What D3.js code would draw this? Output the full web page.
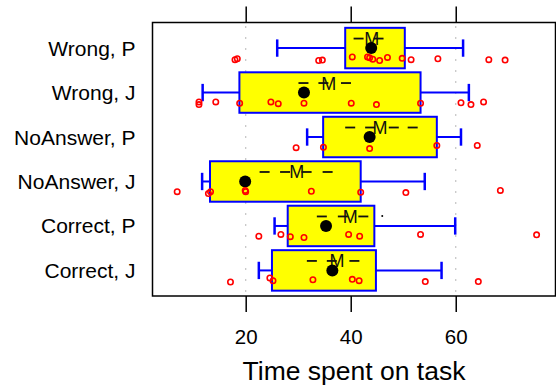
<!DOCTYPE html>
<html>
<head>
<meta charset="utf-8">
<script src="https://d3js.org/d3.v7.min.js"></script>
<style>
    body { margin: 0; background: #fff; }
    svg { display: block; font-family: "Liberation Sans", Arial, sans-serif; }
    .frame { fill: none; stroke: #000; stroke-width: 1.5px; }
    .ref { stroke: #888; stroke-width: 1.2px; stroke-dasharray: 1,10; }
    .box { fill: #ffff00; stroke: #0000ff; stroke-width: 2px; }
    .whisker { stroke: #0000ff; stroke-width: 2px; }
    .cap { stroke: #0000ff; stroke-width: 2.5px; }
    .pt { fill: none; stroke: #ff0000; stroke-width: 1.6px; }
    .dash { stroke: #111; stroke-width: 1.8px; }
    .axis path { display: none; }
    .axis line { stroke: #000; stroke-width: 1.5px; }
</style>
</head>
<body>
<svg width="556" height="388"></svg>
<script>
    // groups, top to bottom
    const categories = ["Wrong, P", "Wrong, J", "NoAnswer, P", "NoAnswer, J", "Correct, P", "Correct, J"];

    // box (quartiles) and whisker ends
    const q1      = [38.95, 18.8, 34.75, 13.2, 28.0, 25.0];
    const q3      = [50.3, 53.3, 56.4, 41.9, 44.5, 44.8];
    const whiskLo = [26.0, 11.8, 31.7, 11.7, 25.5, 22.5];
    const whiskHi = [61.4, 62.5, 61.0, 54.1, 59.9, 57.3];

    // mean (black dot), "M" marker and small dashes around it
    const means = [43.9, 31.1, 43.6, 19.9, 35.3, 36.5];
    const mPos  = [44.0, 35.8, 45.6, 29.7, 39.9, 37.4];
    const dashes = [
        [41.5, 45.3],
        [31.0, 34.8, 39.1],
        [39.9, 43.7, 48.2, 51.8],
        [23.6, 27.5, 31.6, 35.6],
        [34.5, 38.5, 42.4],
        [32.6, 36.4, 40.7]
    ];
    const strayDots = [[4, 46.0]];

    // raw observations: values and their vertical jitter (fraction of row step)
    const obs = [
        [17.96, 18.4, 33.9, 34.6, 40.3, 43.2, 43.6, 44.2, 45.5, 47.0, 49.8, 51.5, 56.6, 66.3, 69.4],
        [11.1, 11.1, 14.3, 18.85, 24.8, 26.2, 31.1, 40.1, 44.9, 53.3, 61.0, 62.9, 65.3],
        [29.6, 34.8, 43.6, 56.4, 64.1],
        [6.95, 12.9, 13.3, 19.9, 20.0, 32.5, 41.9, 50.5, 68.5],
        [22.5, 26.7, 28.5, 31.1, 39.6, 41.7, 53.3, 75.4],
        [17.1, 24.6, 25.2, 32.8, 40.3, 41.6, 54.2, 64.3]
    ];
    const jitter = [
        [.26, .24, .28, .27, .20, .20, .22, .25, .28, .21, .23, .26, .24, .26, .27],
        [.21, .27, .21, .24, .21, .25, .24, .24, .27, .24, .23, .27, .21],
        [.24, .23, .26, .19, .19],
        [.23, .27, .23, .20, .23, .22, .24, .25, .20],
        [.23, .19, .24, .26, .19, .23, .19, .20],
        [.26, .17, .23, .21, .20, .23, .25, .25]
    ];

    const xTicks = [20, 40, 60];
    const refLines = [20, 60];

    const margin = {top: 22.5, right: 0.5, bottom: 92, left: 152.5},
          W = 556, H = 388,
          width = W - margin.left - margin.right,
          height = H - margin.top - margin.bottom;

    const svg = d3.select("svg");
    const g = svg.append("g").attr("transform", `translate(${margin.left},${margin.top})`);

    const x = d3.scaleLinear().domain([2.25, 79]).range([0, width]);
    const y = d3.scalePoint().domain(categories).range([0, height]).padding(0.575);
    const step = y.step();
    const boxH = step * 0.91;
    const capH = step * 0.39;

    // dotted reference lines
    g.selectAll(".ref").data(refLines).enter().append("line")
        .attr("class", "ref")
        .attr("x1", d => x(d)).attr("x2", d => x(d))
        .attr("y1", 4).attr("y2", height);

    const rows = g.selectAll(".row")
        .data(categories)
        .enter().append("g")
        .attr("class", "row")
        .attr("transform", d => `translate(0,${y(d)})`);

    rows.append("line").attr("class", "whisker")
        .attr("x1", (d, i) => x(whiskLo[i])).attr("x2", (d, i) => x(q1[i]));
    rows.append("line").attr("class", "whisker")
        .attr("x1", (d, i) => x(q3[i])).attr("x2", (d, i) => x(whiskHi[i]));
    rows.append("line").attr("class", "cap")
        .attr("x1", (d, i) => x(whiskLo[i])).attr("x2", (d, i) => x(whiskLo[i]))
        .attr("y1", -capH / 2).attr("y2", capH / 2);
    rows.append("line").attr("class", "cap")
        .attr("x1", (d, i) => x(whiskHi[i])).attr("x2", (d, i) => x(whiskHi[i]))
        .attr("y1", -capH / 2).attr("y2", capH / 2);

    rows.append("rect").attr("class", "box")
        .attr("x", (d, i) => x(q1[i]))
        .attr("width", (d, i) => x(q3[i]) - x(q1[i]))
        .attr("y", -boxH / 2)
        .attr("height", boxH);

    // M marker and dashes
    rows.each(function(d, i) {
        const r = d3.select(this);
        r.selectAll(".dash").data(dashes[i]).enter().append("line")
            .attr("class", "dash")
            .attr("x1", v => x(v) - 5).attr("x2", v => x(v) + 5)
            .attr("y1", -9.5).attr("y2", -9.5);
        r.append("text")
            .attr("x", x(mPos[i]))
            .attr("y", -9.5 + 6.5)
            .attr("text-anchor", "middle")
            .style("font-size", "18px")
            .attr("fill", "#111")
            .text("M");
    });

    rows.append("circle")
        .attr("cx", (d, i) => x(means[i]))
        .attr("cy", 0)
        .attr("r", 6)
        .attr("fill", "#000");

    rows.each(function(d, i) {
        d3.select(this).selectAll(".pt").data(obs[i]).enter().append("circle")
            .attr("class", "pt")
            .attr("cx", v => x(v))
            .attr("cy", (v, k) => jitter[i][k] * step)
            .attr("r", 2.7);
    });

    strayDots.forEach(([i, v]) => {
        g.append("circle")
            .attr("cx", x(v))
            .attr("cy", y(categories[i]) - 10)
            .attr("r", 1)
            .attr("fill", "#000");
    });

    // frame
    g.append("rect").attr("class", "frame")
        .attr("width", width).attr("height", height);

    // axes
    g.append("g").attr("class", "axis")
        .attr("transform", `translate(0,${height})`)
        .call(d3.axisBottom(x).tickValues(xTicks).tickSize(16).tickPadding(17))
        .selectAll("text")
        .attr("fill", "#000")
        .style("font-size", "20.5px")
        .style("font-family", "'Liberation Sans', Arial, sans-serif");

    g.append("g").attr("class", "axis")
        .call(d3.axisTop(x).tickValues(xTicks).tickSize(16).tickFormat(""));

    // category labels
    g.selectAll(".ylab").data(categories).enter().append("text")
        .attr("class", "ylab")
        .attr("x", -17)
        .attr("y", d => y(d) + 7.5)
        .attr("text-anchor", "end")
        .style("font-size", "21px")
        .text(d => d);

    svg.append("text")
        .attr("x", margin.left + width / 2)
        .attr("y", 380)
        .attr("text-anchor", "middle")
        .style("font-size", "26.5px")
        .text("Time spent on task");
</script>
</body>
</html>
